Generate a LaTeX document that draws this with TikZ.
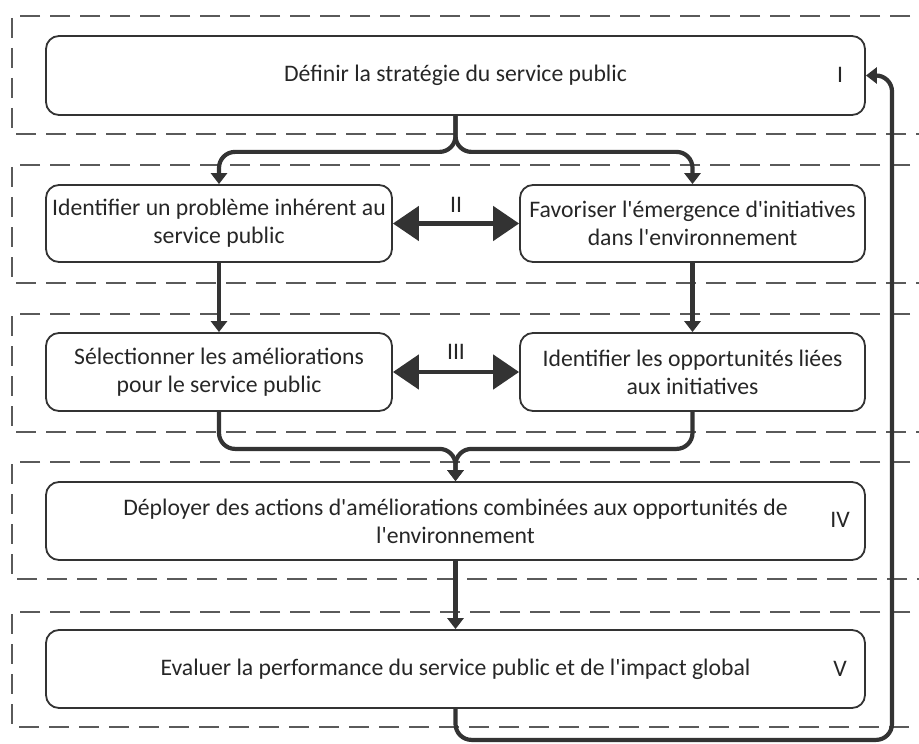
\documentclass[tikz,border=0pt]{standalone}
\usepackage{fontspec}
\setmainfont{Carlito}[Ligatures=TeXOff]
\usetikzlibrary{arrows.meta}
\definecolor{ink}{HTML}{333333}
\definecolor{dash}{HTML}{5A5A5A}
\tikzset{
  band/.style={draw=dash, line width=0.85pt, dash pattern=on 10pt off 5pt},
  stepbox/.style={draw=ink, line width=0.9pt, rounded corners=6.5pt, align=center,
    inner sep=0pt, font=\fontsize{11.85}{14}\selectfont, text=black!85},
  roman/.style={font=\fontsize{11.85}{14}\selectfont, text=black!85, inner sep=0pt},
  flow/.style={draw=ink, line width=2.1pt, rounded corners=8pt, -{Triangle[length=5.5pt,width=8pt]}},
  dbl/.style={draw=ink, line width=2.4pt, {Triangle[length=13pt,width=17pt]}-{Triangle[length=13pt,width=17pt]}},
}
\begin{document}
\begin{tikzpicture}[x=0.5pt,y=-0.5pt]
\useasboundingbox (0,0) rectangle (919,743);
% dashed bands
\draw[band] (940,16) -- (12,16) -- (12,134) -- (940,134);
\draw[band] (940,165) -- (12,165) -- (12,283) -- (940,283);
\draw[band] (940,314) -- (12,314) -- (12,432) -- (940,432);
\draw[band] (940,462) -- (12,462) -- (12,579) -- (940,579);
\draw[band] (940,612) -- (12,612) -- (12,727) -- (940,727);
% boxes
\node[stepbox, minimum width=409.5pt, minimum height=39.5pt] (b1) at (455.5,75.5) {Définir la stratégie du service public};
\node[stepbox, minimum width=173pt, minimum height=38.5pt] (b2l) at (219,223.5) {Identifier un problème inhérent au\\service public};
\node[stepbox, minimum width=172.5pt, minimum height=38.5pt] (b2r) at (692.5,223.5) {Favoriser l'émergence d'initiatives\\dans l'environnement};
\node[stepbox, minimum width=173pt, minimum height=39pt] (b3l) at (219,372) {Sélectionner les améliorations\\pour le service public};
\node[stepbox, minimum width=172.5pt, minimum height=39pt] (b3r) at (692.5,372) {Identifier les opportunités liées\\aux initiatives};
\node[stepbox, minimum width=409.5pt, minimum height=39pt] (b4) at (455.5,521) {Déployer des actions d'améliorations combinées aux opportunités de\\l'environnement};
\node[stepbox, minimum width=409.5pt, minimum height=39pt] (b5) at (455.5,669) {Evaluer la performance du service public et de l'impact global};
% roman labels
\node[roman] (r1) at (840,75) {I};
\node[roman] (r2) at (456,205) {II};
\node[roman] (r3) at (456,352) {III};
\node[roman] (r4) at (840,520) {IV};
\node[roman] (r5) at (840,669) {V};
% connectors
\draw[flow] (b1.south) -- ++(0,36) -| (b2l.north);
\draw[flow] (b1.south) -- ++(0,36) -| (b2r.north);
\draw[dbl] (b2l.east) -- (b2r.west);
\draw[dbl] (b3l.east) -- (b3r.west);
\draw[flow] (b2l.south) -- (b3l.north);
\draw[flow] (b2r.south) -- (b3r.north);
\draw[flow] (b3l.south) -- ++(0,37) -| (b4.north);
\draw[flow] (b3r.south) -- ++(0,37) -| (b4.north);
\draw[flow] (b4.south) -- (b5.north);
\coordinate (ret) at (892,75.5);
\draw[flow] (b5.south) -- ++(0,31) -| (ret) -- (b1.east);
\end{tikzpicture}
\end{document}
